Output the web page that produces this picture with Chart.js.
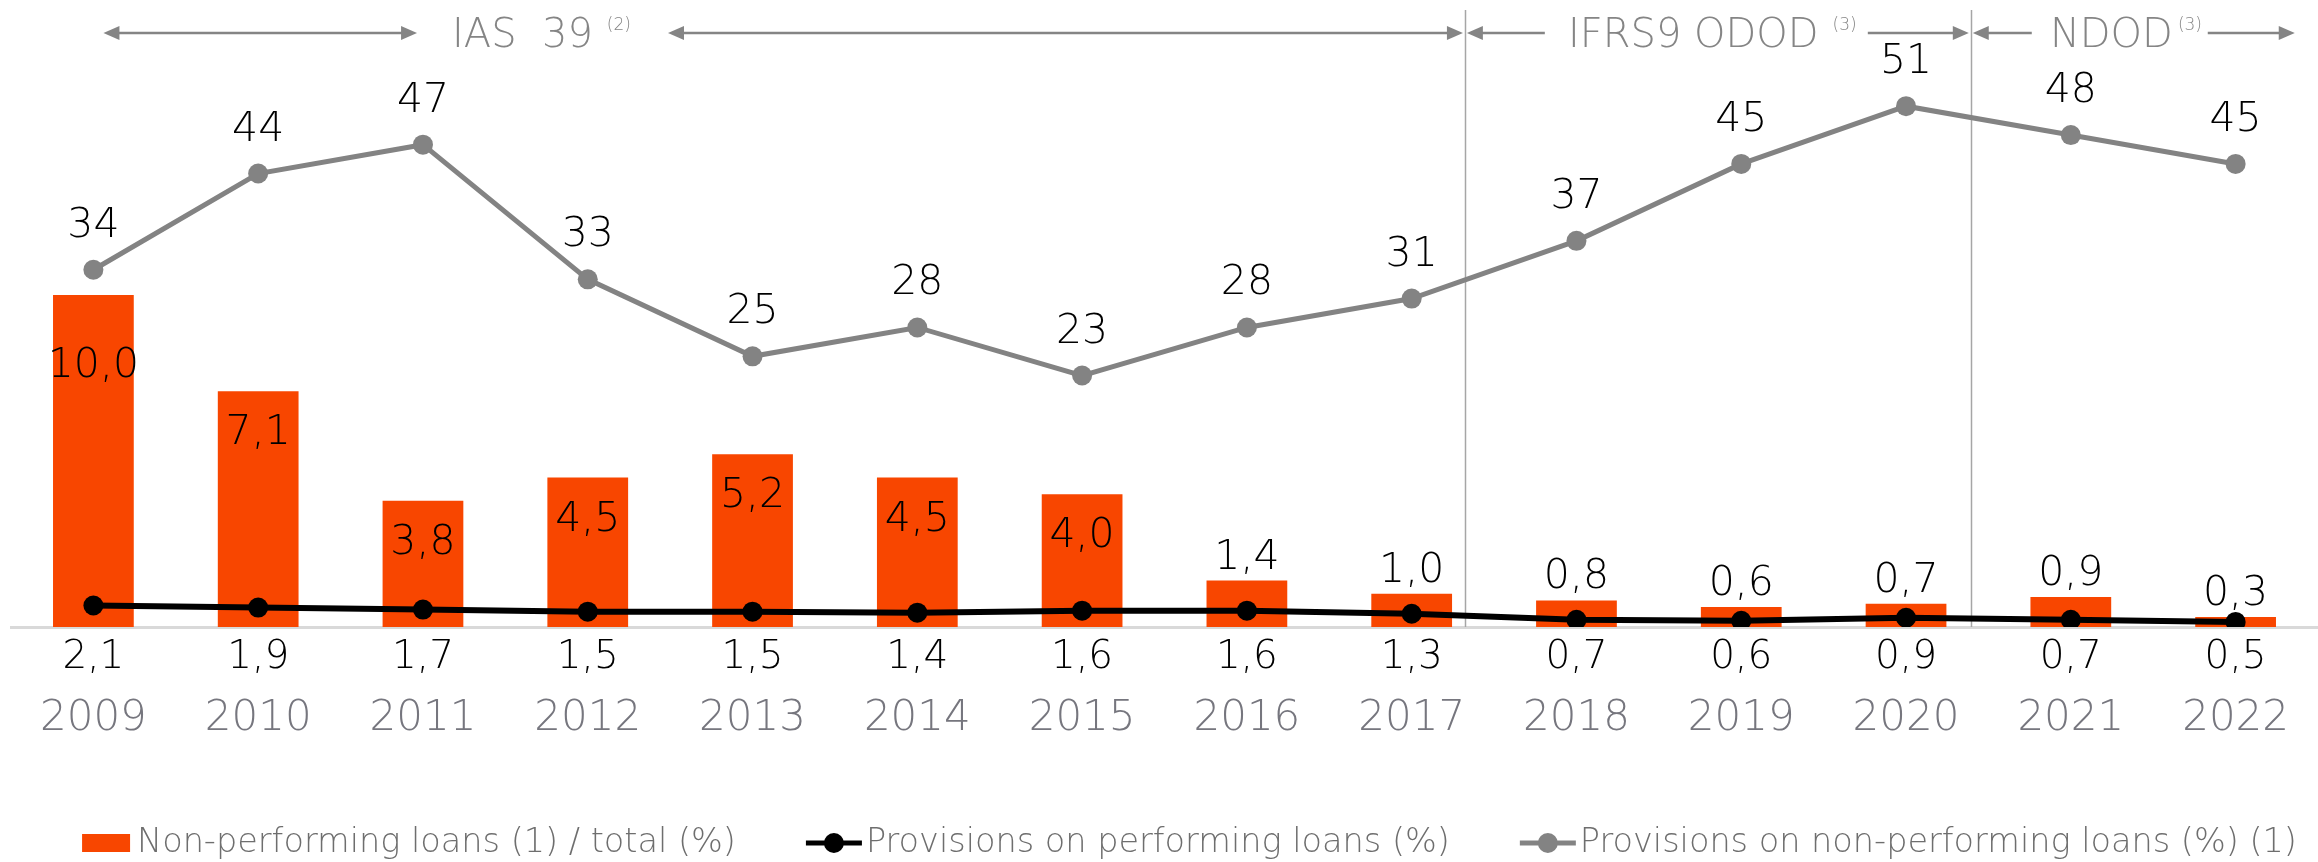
<!DOCTYPE html>
<html>
<head>
<meta charset="utf-8">
<script src="https://cdn.jsdelivr.net/npm/chart.js@4.4.1/dist/chart.umd.min.js"></script>
<style>
  html, body { margin: 0; padding: 0; background: #fff; }
  #wrap { width: 2318px; height: 862px; }
</style>
</head>
<body>
<div id="wrap"><canvas id="npl" width="2318" height="862"></canvas></div>
<script>
// data
const years = ['2009', '2010', '2011', '2012', '2013', '2014', '2015', '2016', '2017', '2018', '2019', '2020', '2021', '2022'];
const nplRatio = [10.0, 7.1, 3.8, 4.5, 5.2, 4.5, 4.0, 1.4, 1.0, 0.8, 0.6, 0.7, 0.9, 0.3];
const provPerforming = [2.1, 1.9, 1.7, 1.5, 1.5, 1.4, 1.6, 1.6, 1.3, 0.7, 0.6, 0.9, 0.7, 0.5];
const provNonPerforming = [34, 44, 47, 33, 25, 28, 23, 28, 31, 37, 45, 51, 48, 45];
const seriesNames = [
  'Non-performing loans (1) / total (%)',
  'Provisions on performing loans (%)',
  'Provisions on non-performing loans (%) (1)'
];
const periodNames = ['IAS  39', 'IFRS9 ODOD', 'NDOD'];
const periodNotes = ['(2)', '(3)', '(3)'];

const FAMILY = '"DejaVu Sans", sans-serif';
const font = (size, weight) => (weight || 200) + ' ' + size + 'px ' + FAMILY;
const ORANGE = '#F84600';
const GREY = '#838383';
const fmt = v => v.toFixed(1).replace('.', ',');

// header bands, in category units (0 = first year)
const header = {
  dividers: [8.323, 11.397],
  arrows: [
    [0.061, 1.964, true, true],
    [3.487, 8.311, true, true],
    [8.335, 8.808, true, false],
    [10.768, 11.381, false, true],
    [11.405, 11.763, true, false],
    [12.831, 13.359, false, true]
  ],
  titles: [2.176, 8.948, 11.873],
  noteGap: [14, 14, 5]
};

const periodHeader = {
  id: 'periodHeader',
  beforeDatasetsDraw(chart) {
    const {ctx, chartArea, scales: {x}} = chart;
    ctx.save();
    ctx.strokeStyle = '#a6a6a6';
    ctx.lineWidth = 1.5;
    header.dividers.forEach(d => {
      const px = Math.round(x.getPixelForValue(d)) + 0.5;
      ctx.beginPath();
      ctx.moveTo(px, chartArea.top);
      ctx.lineTo(px, chartArea.bottom);
      ctx.stroke();
    });
    ctx.restore();
  },
  afterDraw(chart) {
    const {ctx, scales: {x}} = chart;
    const y = 33;
    ctx.save();
    ctx.strokeStyle = '#858585';
    ctx.fillStyle = '#858585';
    ctx.lineWidth = 2.5;
    const head = (tip, dir) => {
      ctx.beginPath();
      ctx.moveTo(tip, y);
      ctx.lineTo(tip - dir * 16, y - 7);
      ctx.lineTo(tip - dir * 16, y + 7);
      ctx.closePath();
      ctx.fill();
    };
    header.arrows.forEach(([a, b, hs, he]) => {
      const x0 = x.getPixelForValue(a), x1 = x.getPixelForValue(b);
      ctx.beginPath();
      ctx.moveTo(x0 + (hs ? 10 : 0), y);
      ctx.lineTo(x1 - (he ? 10 : 0), y);
      ctx.stroke();
      if (hs) head(x0, -1);
      if (he) head(x1, 1);
    });
    ctx.textAlign = 'left';
    ctx.textBaseline = 'alphabetic';
    header.titles.forEach((t, i) => {
      const left = x.getPixelForValue(t);
      ctx.font = font(40);
      ctx.fillText(periodNames[i], left, 47);
      const w = ctx.measureText(periodNames[i]).width;
      ctx.font = font(17);
      ctx.fillText(periodNotes[i], left + w + header.noteGap[i], 30);
    });
    ctx.restore();
  }
};

const valueLabels = {
  id: 'valueLabels',
  afterDatasetsDraw(chart) {
    const {ctx, chartArea} = chart;
    ctx.save();
    ctx.textAlign = 'center';
    ctx.textBaseline = 'alphabetic';
    ctx.fillStyle = '#000';
    ctx.font = font(41);
    chart.getDatasetMeta(0).data.forEach((bar, i) => {
      const v = nplRatio[i];
      const inside = v >= 3 ? (v >= 10 ? 82 : 53) : -12;
      ctx.fillText(fmt(v), bar.x, bar.y + inside);
    });
    chart.getDatasetMeta(2).data.forEach((pt, i) => {
      ctx.fillText(String(provNonPerforming[i]), pt.x, pt.y - 33);
    });
    ctx.font = font(39);
    chart.getDatasetMeta(1).data.forEach((pt, i) => {
      ctx.fillText(fmt(provPerforming[i]), pt.x, chartArea.bottom + 41);
    });
    ctx.restore();
  }
};

// legend row drawn by hand: Excel-style line+marker swatches
const legendRow = {
  id: 'legendRow',
  afterDraw(chart) {
    const {ctx, chartArea} = chart;
    const base = chart.height - 10;
    const spacing = 70;
    ctx.save();
    ctx.font = font(33.5);
    const items = chart.data.datasets.map(ds => {
      const isBar = ds.type === 'bar';
      const sw = isBar ? 48 : 56;
      const gap = isBar ? 7 : 4;
      return {ds, isBar, sw, gap, tw: ctx.measureText(ds.label).width};
    });
    const total = items.reduce((s, it) => s + it.sw + it.gap + it.tw, 0) + spacing * (items.length - 1);
    let cx = (chartArea.left + chartArea.right) / 2 + 25 - total / 2;
    items.forEach(it => {
      if (it.isBar) {
        ctx.fillStyle = it.ds.backgroundColor;
        ctx.fillRect(cx, base - 18, it.sw, 18);
      } else {
        const my = base - 9;
        ctx.strokeStyle = it.ds.borderColor;
        ctx.lineWidth = 5;
        ctx.beginPath();
        ctx.moveTo(cx, my);
        ctx.lineTo(cx + it.sw, my);
        ctx.stroke();
        ctx.fillStyle = it.ds.borderColor;
        ctx.beginPath();
        ctx.arc(cx + it.sw / 2, my, 10, 0, Math.PI * 2);
        ctx.fill();
      }
      cx += it.sw + it.gap;
      ctx.fillStyle = '#6e6e6e';
      ctx.textAlign = 'left';
      ctx.textBaseline = 'alphabetic';
      ctx.fillText(it.ds.label, cx, base);
      cx += it.tw + spacing;
    });
    ctx.restore();
  }
};

Chart.defaults.font.family = FAMILY;

new Chart(document.getElementById('npl'), {
  type: 'bar',
  data: {
    labels: years,
    datasets: [
      {
        type: 'bar',
        label: seriesNames[0],
        data: nplRatio,
        backgroundColor: ORANGE,
        yAxisID: 'yBar',
        barPercentage: 0.49,
        categoryPercentage: 1,
        order: 3
      },
      {
        type: 'line',
        label: seriesNames[1],
        data: provPerforming,
        borderColor: '#000000',
        backgroundColor: '#000000',
        borderWidth: 6,
        pointRadius: 10,
        pointBorderWidth: 0,
        yAxisID: 'yPerf',
        order: 1
      },
      {
        type: 'line',
        label: seriesNames[2],
        data: provNonPerforming,
        borderColor: GREY,
        backgroundColor: GREY,
        borderWidth: 5,
        pointRadius: 10,
        pointBorderWidth: 0,
        yAxisID: 'yNpl',
        order: 2
      }
    ]
  },
  options: {
    responsive: false,
    animation: false,
    devicePixelRatio: 1,
    layout: { padding: { left: 11, right: 0, top: 10, bottom: 0 }, autoPadding: false },
    plugins: {
      legend: { display: false },
      tooltip: { enabled: false }
    },
    scales: {
      x: {
        offset: true,
        grid: { display: false, drawTicks: false },
        border: { display: true, color: '#d9d9d9', width: 3 },
        ticks: {
          color: '#76767e',
          padding: 67,
          font: { size: 42, weight: 200 }
        },
        afterFit(scale) {
          // keep the plot edge to edge and the baseline where the reference has it
          scale.paddingLeft = 0;
          scale.paddingRight = 0;
          scale.height = 235;
        }
      },
      yBar: { display: false, min: 0, max: 18.58 },
      yPerf: { display: false, min: 0, max: 60.3 },
      yNpl: { display: false, min: -3.14, max: 61.0 }
    }
  },
  plugins: [periodHeader, valueLabels, legendRow]
});
</script>
</body>
</html>
